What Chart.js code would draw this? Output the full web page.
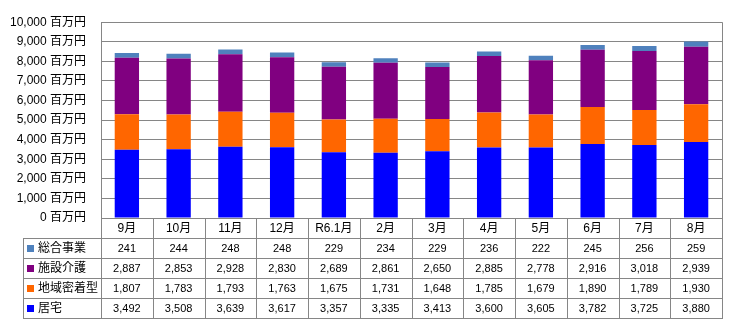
<!DOCTYPE html>
<html>
<head>
<meta charset="utf-8">
<script src="https://cdn.jsdelivr.net/npm/chart.js@4"></script>
<style>
  html, body { margin: 0; padding: 0; background: #fff; }
  #wrap { width: 729px; height: 325px; }
</style>
</head>
<body>
<div id="wrap"><canvas id="chart-area" width="729" height="325"></canvas></div>
<script>
(function () {
  'use strict';

  var months = ['9月', '10月', '11月', '12月', 'R6.1月', '2月', '3月', '4月', '5月', '6月', '7月', '8月'];
  var kyotaku = [3492, 3508, 3639, 3617, 3357, 3335, 3413, 3600, 3605, 3782, 3725, 3880];
  var chiiki = [1807, 1783, 1793, 1763, 1675, 1731, 1648, 1785, 1679, 1890, 1789, 1930];
  var shisetsu = [2887, 2853, 2928, 2830, 2689, 2861, 2650, 2885, 2778, 2916, 3018, 2939];
  var sougou = [241, 244, 248, 248, 229, 234, 229, 236, 222, 245, 256, 259];
  var yTicks = [0, 1000, 2000, 3000, 4000, 5000, 6000, 7000, 8000, 9000, 10000];

  var lineColor = '#868686';
  var font = "'Liberation Sans', 'Noto Sans CJK JP', sans-serif";

  var series = [
    { label: '居宅', data: kyotaku, color: '#0000FF' },
    { label: '地域密着型', data: chiiki, color: '#FF6600' },
    { label: '施設介護', data: shisetsu, color: '#800080' },
    { label: '総合事業', data: sougou, color: '#4F81BD' }
  ];

  // data table under the plot, columns follow the x scale
  var dataTable = {
    id: 'dataTable',
    afterDraw: function (chart) {
      var ctx = chart.ctx;
      var area = chart.chartArea;
      var x = chart.scales.x;
      var colW = (area.right - area.left) / months.length;
      var rowH = 20;
      var top = area.bottom;
      var labelLeft = 23;
      var rows = series.slice().reverse();
      var bottom = top + rowH * (rows.length + 1);

      ctx.save();
      ctx.strokeStyle = lineColor;
      ctx.lineWidth = 1;
      ctx.beginPath();
      // right edge of plot and table
      ctx.moveTo(area.right + 0.5, area.top);
      ctx.lineTo(area.right + 0.5, bottom);
      // column separators
      for (var i = 0; i <= months.length; i++) {
        var cx = Math.round(area.left + colW * i) + 0.5;
        ctx.moveTo(cx, top);
        ctx.lineTo(cx, bottom);
      }
      ctx.moveTo(labelLeft + 0.5, top + rowH);
      ctx.lineTo(labelLeft + 0.5, bottom);
      for (var r = 1; r <= rows.length + 1; r++) {
        var ry = top + rowH * r + 0.5;
        ctx.moveTo(labelLeft, ry);
        ctx.lineTo(area.right + 1, ry);
      }
      ctx.stroke();

      ctx.fillStyle = '#000';
      ctx.textAlign = 'center';
      ctx.textBaseline = 'middle';
      ctx.font = '12px ' + font;
      months.forEach(function (m, j) {
        ctx.fillText(m, x.getPixelForValue(j), top + rowH / 2 + 1);
      });

      rows.forEach(function (s, k) {
        var cy = top + rowH * (k + 1) + rowH / 2 + 1;
        ctx.fillStyle = s.color;
        ctx.fillRect(labelLeft + 4, cy - 4, 7, 7);
        ctx.fillStyle = '#000';
        ctx.textAlign = 'left';
        ctx.font = '12px ' + font;
        ctx.fillText(s.label, labelLeft + 15, cy);
        ctx.textAlign = 'center';
        ctx.font = '11px ' + font;
        s.data.forEach(function (v, j) {
          ctx.fillText(v.toLocaleString('en-US'), x.getPixelForValue(j), cy);
        });
      });
      ctx.restore();
    }
  };

  var ctx = document.getElementById('chart-area').getContext('2d');
  window.careChart = new Chart(ctx, {
    type: 'bar',
    data: {
      labels: months,
      datasets: series.map(function (s) {
        return {
          label: s.label,
          data: s.data,
          backgroundColor: s.color,
          borderWidth: 0,
          barPercentage: 0.47,
          categoryPercentage: 1
        };
      })
    },
    options: {
      responsive: false,
      animation: false,
      layout: { padding: { top: 8, right: 7, bottom: 107, left: 0 } },
      plugins: { legend: { display: false }, tooltip: { enabled: false } },
      scales: {
        x: {
          stacked: true,
          display: false
        },
        y: {
          stacked: true,
          min: 0,
          max: 10000,
          afterBuildTicks: function (axis) {
            axis.ticks = yTicks.map(function (v) { return { value: v }; });
          },
          afterFit: function (axis) { axis.width = 101; },
          border: { color: lineColor, width: 1 },
          grid: { color: lineColor, lineWidth: 1, drawTicks: false },
          ticks: {
            padding: 15,
            color: '#000',
            font: { family: font, size: 12 },
            callback: function (v) { return v.toLocaleString('en-US') + ' 百万円'; }
          }
        }
      }
    },
    plugins: [dataTable]
  });
})();
</script>
</body>
</html>
